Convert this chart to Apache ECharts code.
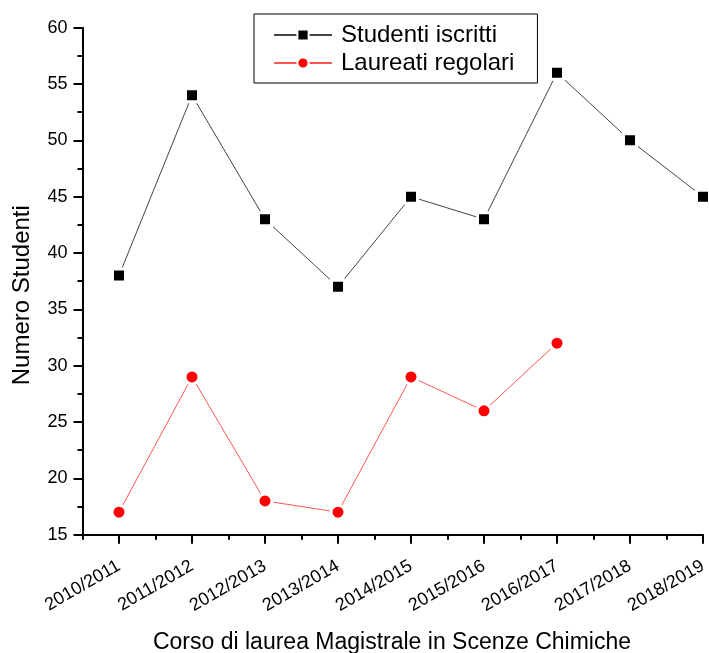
<!DOCTYPE html>
<html>
<head>
<meta charset="utf-8">
<script src="https://cdn.jsdelivr.net/npm/echarts@6/dist/echarts.min.js"></script>
<style>html,body{margin:0;padding:0;background:#fff;}#c{width:709px;height:653px;}</style>
</head>
<body>
<div id="c"></div>
<script>
const categories = ['2010/2011','2011/2012','2012/2013','2013/2014','2014/2015','2015/2016','2016/2017','2017/2018','2018/2019'];
const iscritti = [38, 54, 43, 37, 45, 43, 56, 50, 45];
const laureati = [17, 29, 18, 17, 29, 26, 32, null, null];
const yTicks = [15, 20, 25, 30, 35, 40, 45, 50, 55, 60];

const chart = echarts.init(document.getElementById('c'));
const font = 'Liberation Sans, Arial, sans-serif';
const yMin = yTicks[0], yMax = yTicks[yTicks.length - 1];
const toPairs = arr => arr.map((v, i) => [i, v]);

chart.setOption({
  animation: false,
  backgroundColor: '#fff',
  grid: [
    { left: 82.5, top: 27.7, width: 620.5, height: 507, outerBoundsMode: 'none', containLabel: false },
    { left: 119, top: 27.7, width: 584, height: 507, outerBoundsMode: 'none', containLabel: false }
  ],
  legend: {
    orient: 'vertical', left: 254, top: 14,
    borderColor: '#000', borderWidth: 1,
    padding: [9, 23, 8, 19],
    itemWidth: 58, itemHeight: 14, itemGap: 4,
    textStyle: { fontFamily: font, fontSize: 24, color: '#000', padding: [0, 0, 0, 4] },
    data: ['Studenti iscritti', 'Laureati regolari']
  },
  xAxis: [{
    gridIndex: 0, type: 'value', min: -0.5, max: 8, interval: 0.5,
    axisLine: { show: true, onZero: false, lineStyle: { color: '#000', width: 2 } },
    axisTick: { show: true, length: 5, lineStyle: { color: '#000', width: 2 } },
    axisLabel: { show: false },
    splitLine: { show: false }
  }, {
    gridIndex: 1, type: 'value', min: 0, max: categories.length - 1, interval: 1,
    axisLine: { show: false, onZero: false },
    axisTick: { show: true, length: 9, lineStyle: { color: '#000', width: 2 } },
    axisLabel: {
      rotate: 30, fontFamily: font, fontSize: 18, color: '#000', margin: 30,
      formatter: v => (Number.isInteger(v) && categories[v] !== undefined) ? categories[v] : ''
    },
    splitLine: { show: false },
    name: 'Corso di laurea Magistrale in Scenze Chimiche',
    nameLocation: 'middle', nameGap: 96,
    nameTextStyle: { fontFamily: font, fontSize: 23, color: '#000', padding: [0, 38, 0, 0] }
  }],
  yAxis: [{
    gridIndex: 0, type: 'value', min: yMin, max: yMax, interval: 5,
    axisLine: { show: true, onZero: false, lineStyle: { color: '#000', width: 2 } },
    axisTick: { show: true, length: 9, lineStyle: { color: '#000', width: 2 } },
    minorTick: { show: true, splitNumber: 2, length: 5, lineStyle: { color: '#000', width: 2 } },
    splitLine: { show: false },
    axisLabel: { fontFamily: font, fontSize: 18, color: '#000', margin: 15 },
    name: 'Numero Studenti', nameLocation: 'middle', nameGap: 48,
    nameTextStyle: { fontFamily: font, fontSize: 24, color: '#000', padding: [0, 28, 0, 0] }
  }, {
    gridIndex: 1, type: 'value', min: yMin, max: yMax, interval: 5, show: false,
    axisLine: { show: false, onZero: false }, axisTick: { show: false },
    axisLabel: { show: false }, splitLine: { show: false }
  }],
  series: [{
    name: 'Studenti iscritti', type: 'line', data: toPairs(iscritti),
    xAxisIndex: 1, yAxisIndex: 1, clip: false,
    symbol: 'rect', symbolSize: 13,
    itemStyle: { color: '#000', borderColor: '#fff', borderWidth: 3 },
    lineStyle: { color: '#444', width: 1 }
  }, {
    name: 'Laureati regolari', type: 'line', data: toPairs(laureati),
    xAxisIndex: 1, yAxisIndex: 1, clip: false,
    symbol: 'circle', symbolSize: 14,
    itemStyle: { color: '#ff0000', borderColor: '#fff', borderWidth: 3 },
    lineStyle: { color: '#ff5555', width: 1 }
  }]
});
</script>
</body>
</html>
